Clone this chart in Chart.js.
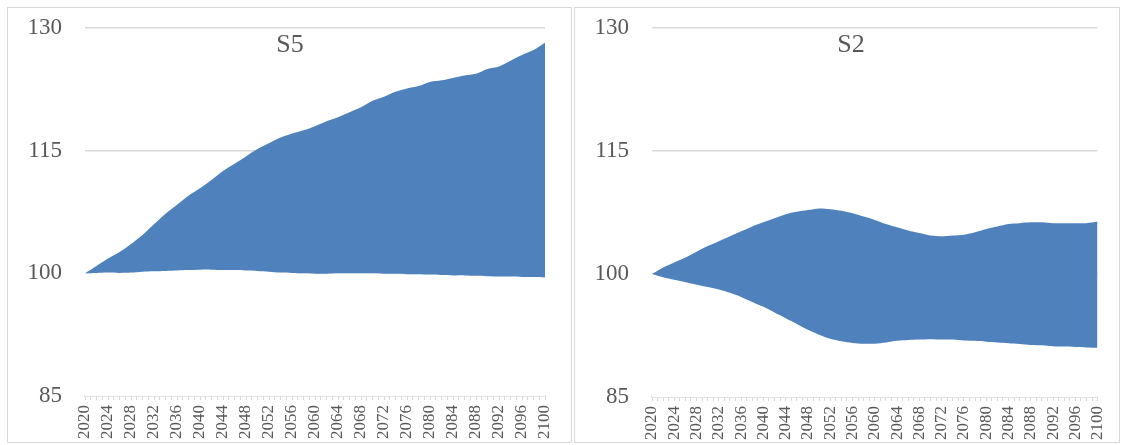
<!DOCTYPE html>
<html>
<head>
<meta charset="utf-8">
<script src="https://cdn.jsdelivr.net/npm/chart.js@4/dist/chart.umd.min.js"></script>
<style>
  body { margin: 0; background: #fff; }
  #wrap { position: relative; width: 1123px; height: 445px; overflow: hidden; }
  .panel { position: absolute; border: 1px solid #d9d9d9; box-sizing: border-box; }
  canvas { position: absolute; top: 0; }
</style>
</head>
<body>
<div id="wrap">
  <div class="panel" style="left:7px;top:7px;width:565px;height:436px"></div>
  <div class="panel" style="left:574px;top:7px;width:546px;height:436px"></div>
  <canvas id="chartS5" width="572" height="445" style="left:0px"></canvas>
  <canvas id="chartS2" width="551" height="445" style="left:572px"></canvas>
</div>
<script>
// years sampled every 2 years
const years = [2020, 2022, 2024, 2026, 2028, 2030, 2032, 2034, 2036, 2038, 2040,
  2042, 2044, 2046, 2048, 2050, 2052, 2054, 2056, 2058, 2060,
  2062, 2064, 2066, 2068, 2070, 2072, 2074, 2076, 2078, 2080,
  2082, 2084, 2086, 2088, 2090, 2092, 2094, 2096, 2098, 2100];

// S5 band
const s5Upper = [100.0, 100.9, 101.8, 102.6, 103.6, 104.7, 106.0, 107.3, 108.4, 109.5, 110.4,
  111.4, 112.5, 113.4, 114.3, 115.2, 115.9, 116.6, 117.1, 117.5, 118.0,
  118.6, 119.1, 119.7, 120.3, 121.1, 121.6, 122.2, 122.6, 122.9, 123.4,
  123.6, 123.9, 124.2, 124.4, 125.0, 125.3, 126.0, 126.7, 127.3, 128.2];
const s5Lower = [100.0, 100.05, 100.1, 100.05, 100.1, 100.2, 100.25, 100.3, 100.35, 100.4, 100.45,
  100.45, 100.4, 100.4, 100.35, 100.3, 100.2, 100.1, 100.05, 100.0, 99.95,
  99.95, 100.0, 100.0, 100.0, 100.0, 99.95, 99.95, 99.9, 99.9, 99.85,
  99.8, 99.75, 99.75, 99.7, 99.65, 99.6, 99.6, 99.55, 99.55, 99.5];

// S2 band
const s2Upper = [100.0, 100.8, 101.4, 102.0, 102.7, 103.4, 104.0, 104.6, 105.2, 105.8, 106.3,
  106.8, 107.3, 107.6, 107.8, 108.0, 107.9, 107.7, 107.4, 107.0, 106.6,
  106.1, 105.7, 105.3, 105.0, 104.7, 104.6, 104.7, 104.8, 105.1, 105.5,
  105.8, 106.1, 106.2, 106.3, 106.3, 106.2, 106.2, 106.2, 106.2, 106.4];
const s2Lower = [100.0, 99.6, 99.3, 99.0, 98.7, 98.4, 98.1, 97.7, 97.2, 96.6, 96.0,
  95.3, 94.6, 93.9, 93.2, 92.6, 92.1, 91.8, 91.6, 91.5, 91.5,
  91.65, 91.85, 91.95, 92.0, 92.05, 92.0, 92.0, 91.9, 91.85, 91.75,
  91.65, 91.55, 91.45, 91.35, 91.3, 91.2, 91.15, 91.1, 91.05, 91.0];

const yTicks = [85, 100, 115, 130];
const xTickLabels = ["2020", "2024", "2028", "2032", "2036", "2040", "2044", "2048", "2052", "2056",
  "2060", "2064", "2068", "2072", "2076", "2080", "2084", "2088", "2092", "2096", "2100"];

const BLUE = "#4F81BD";
const TEXT = "#595959";
const GRID = "#d9d9d9";
const SERIF = '"Liberation Serif", "DejaVu Serif", serif';

// draws the panel title over the plot area
const panelTitle = {
  id: "panelTitle",
  afterDraw(chart, args, opts) {
    const ctx = chart.ctx;
    ctx.save();
    ctx.font = `26px ${SERIF}`;
    ctx.fillStyle = TEXT;
    ctx.textAlign = "center";
    ctx.textBaseline = "middle";
    ctx.fillText(opts.text, opts.x, opts.y);
    ctx.restore();
  },
};

function makeChart(id, title, upper, lower, cfg) {
  const ctx = document.getElementById(id).getContext("2d");
  return new Chart(ctx, {
    type: "line",
    data: {
      datasets: [
        {
          label: title + " upper",
          data: years.map((y, i) => ({ x: y, y: upper[i] })),
          borderWidth: 0,
          borderColor: BLUE,
          backgroundColor: BLUE,
          pointRadius: 0,
          tension: 0.3,
          fill: "+1",
        },
        {
          // white base area, hides the gridlines under the band like in excel
          label: title + " lower",
          data: years.map((y, i) => ({ x: y, y: lower[i] })),
          borderWidth: 0,
          borderColor: "#ffffff",
          backgroundColor: "#ffffff",
          pointRadius: 0,
          tension: 0.3,
          fill: "start",
        },
      ],
    },
    options: {
      responsive: false,
      animation: false,
      layout: { padding: { left: 0, right: cfg.padRight, top: cfg.padTop, bottom: 0 } },
      plugins: {
        legend: { display: false },
        tooltip: { enabled: false },
        panelTitle: { text: title, x: cfg.titleX, y: 45 },
      },
      scales: {
        x: {
          type: "linear",
          min: 2020,
          max: 2100,
          z: 1,
          afterFit: (s) => { s.height = cfg.xHeight; },
          grid: { drawOnChartArea: false, drawTicks: true, tickLength: 4, color: GRID, lineWidth: 1 },
          border: { display: true, color: GRID, width: 1.5 },
          ticks: {
            stepSize: 1,
            maxTicksLimit: 200,
            autoSkip: false,
            minRotation: 90,
            maxRotation: 90,
            padding: 5,
            color: TEXT,
            font: { family: SERIF, size: 17 },
            callback: (v) => (xTickLabels.includes(String(v)) ? String(v) : ""),
          },
        },
        y: {
          min: 85,
          max: 130,
          afterFit: (s) => { s.width = cfg.yWidth; },
          afterBuildTicks: (s) => { s.ticks = yTicks.map((v) => ({ value: v })); },
          // invisible tick marks give the gap between labels and plot
          grid: { drawTicks: true, tickLength: 23, tickColor: "rgba(0,0,0,0)", color: GRID, lineWidth: 1.5 },
          border: { display: false },
          ticks: {
            padding: 0,
            color: TEXT,
            font: { family: SERIF, size: 23 },
            callback: (v) => String(v),
          },
        },
      },
    },
    plugins: [panelTitle],
  });
}

makeChart("chartS5", "S5", s5Upper, s5Lower, { yWidth: 85, padRight: 27, padTop: 28, xHeight: 49, titleX: 290 });
makeChart("chartS2", "S2", s2Upper, s2Lower, { yWidth: 80, padRight: 24, padTop: 28, xHeight: 48, titleX: 279 });
</script>
</body>
</html>
